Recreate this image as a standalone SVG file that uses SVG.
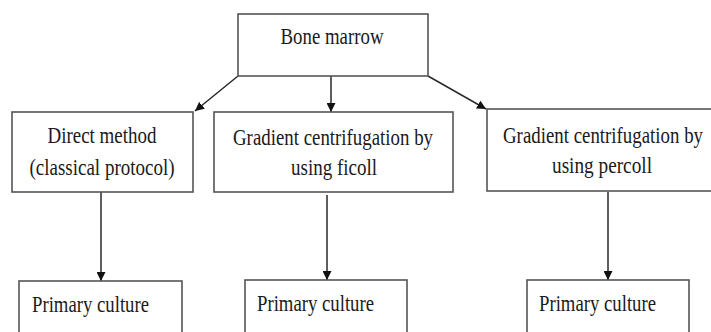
<svg xmlns="http://www.w3.org/2000/svg" width="711" height="332" viewBox="0 0 711 332">
<defs>
<style>
.box{fill:#fff;stroke:#555;stroke-width:1.6}
.t{font-family:"Liberation Serif","Times New Roman",serif;font-size:23px;fill:#1a1a1a}
.c{text-anchor:middle}
.ln{stroke:#2a2a2a;stroke-width:1.5;fill:none}
</style>
<marker id="ah" viewBox="0 0 10 10" refX="10" refY="5" markerWidth="9" markerHeight="9" markerUnits="userSpaceOnUse" orient="auto">
<path d="M0,0 L10,5 L0,10 Z" fill="#111"/>
</marker>
</defs>
<rect width="711" height="332" fill="#fff"/>
<g id="connectors">
<line class="ln" x1="238" y1="76" x2="195" y2="111" marker-end="url(#ah)"/>
<line class="ln" x1="331" y1="76" x2="331" y2="112" marker-end="url(#ah)"/>
<line class="ln" x1="428" y1="76" x2="486" y2="109" marker-end="url(#ah)"/>
<line class="ln" x1="101" y1="192" x2="101" y2="281" marker-end="url(#ah)"/>
<line class="ln" x1="327" y1="195" x2="327" y2="280" marker-end="url(#ah)"/>
<line class="ln" x1="608" y1="192" x2="608" y2="280" marker-end="url(#ah)"/>
</g>
<g id="bone-marrow">
<rect class="box" x="238" y="14" width="190" height="62"/>
<text class="t c" x="332" y="44" textLength="103" lengthAdjust="spacingAndGlyphs">Bone marrow</text>
</g>
<g id="direct-method">
<rect class="box" x="12" y="112" width="181" height="80"/>
<text class="t c" x="102" y="143" textLength="109" lengthAdjust="spacingAndGlyphs">Direct method</text>
<text class="t c" x="102" y="175" textLength="145" lengthAdjust="spacingAndGlyphs">(classical protocol)</text>
</g>
<g id="ficoll">
<rect class="box" x="214" y="112" width="239" height="80"/>
<text class="t c" x="333" y="145" textLength="200" lengthAdjust="spacingAndGlyphs">Gradient centrifugation by</text>
<text class="t c" x="334" y="175" textLength="86" lengthAdjust="spacingAndGlyphs">using ficoll</text>
</g>
<g id="percoll">
<rect class="box" x="487" y="109" width="236" height="82"/>
<text class="t c" x="603" y="143" textLength="200" lengthAdjust="spacingAndGlyphs">Gradient centrifugation by</text>
<text class="t c" x="602" y="173" textLength="100" lengthAdjust="spacingAndGlyphs">using percoll</text>
</g>
<g id="primary-1">
<rect class="box" x="19" y="281" width="163" height="60"/>
<text class="t" x="32" y="312" textLength="117" lengthAdjust="spacingAndGlyphs">Primary culture</text>
</g>
<g id="primary-2">
<rect class="box" x="245" y="280" width="162" height="60"/>
<text class="t" x="257" y="311" textLength="117" lengthAdjust="spacingAndGlyphs">Primary culture</text>
</g>
<g id="primary-3">
<rect class="box" x="527" y="280" width="162" height="60"/>
<text class="t" x="539" y="311" textLength="117" lengthAdjust="spacingAndGlyphs">Primary culture</text>
</g>
</svg>
